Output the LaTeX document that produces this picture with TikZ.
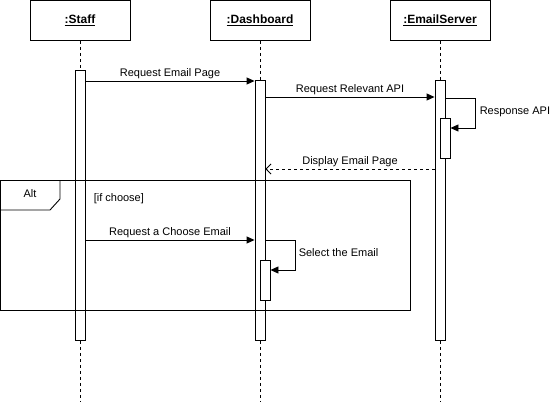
\documentclass[tikz,border=0pt]{standalone}
\usepackage{fontspec}
\setmainfont{Liberation Sans}
\usetikzlibrary{arrows.meta, positioning}

\begin{document}
\begin{tikzpicture}[x=1pt,y=-1pt,line width=0.9pt,font=\fontsize{11}{13}\selectfont,>={Triangle[length=8pt,width=7pt]}]
    \tikzstyle{head}=[shape=rectangle,draw,minimum width=100pt,minimum height=40pt,font=\fontsize{12}{14}\selectfont\bfseries]
    \tikzstyle{act}=[shape=rectangle,draw,fill=white,minimum width=10pt,inner sep=0pt]
    \tikzstyle{life}=[dash pattern=on 3pt off 3pt]
    \tikzstyle{reply}=[dash pattern=on 3pt off 3pt,-{Straight Barb[length=5pt,width=10pt]}]
    \tikzstyle{msg}=[above,inner sep=2pt]

    \useasboundingbox (0,0) rectangle (556,401);

    \node[head] (staff) at (80,20.5) {\underline{:Staff}};
    \node[head] (dash) at (260,20.5) {\underline{:Dashboard}};
    \node[head] (mail) at (440,20.5) {\underline{:EmailServer}};
    \coordinate (staffEnd) at (80,401);
    \coordinate (dashEnd) at (260,401);
    \coordinate (mailEnd) at (440,401);

    \draw[life] (staff) -- (staffEnd);
    \draw[life] (dash) -- (dashEnd);
    \draw[life] (mail) -- (mailEnd);

    \node[act, minimum height=270pt] (actS) at (80,205) {};
    \node[act, minimum height=260pt] (actD) at (260,210) {};
    \node[act, minimum height=260pt] (actM) at (440,210) {};
    \node[act, minimum height=40pt] (actM2) at (445,138) {};
    \node[act, minimum height=40pt] (actD2) at (265,280) {};

    % messages
    \draw[->] (actS.east |- 0,81) -- node[msg] {Request Email Page} (actD.west |- 0,81);
    \draw[->] (actD.east |- 0,97) -- node[msg] {Request Relevant API} (actM.west |- 0,97);
    \draw[->] (actM.east |- 0,98) -- (475,98) -- (475,128) -- (actM2.east |- 0,128);
    \node[anchor=west] (resp) at (476,112) {Response API};
    \draw[reply] (actM.west |- 0,169) -- node[msg] {Display Email Page} (actD.east |- 0,169);

    % alt fragment
    \draw (0,180) rectangle (410,310);
    \draw (0,210) -- (50,210) -- (60,199) -- (60,180);
    \node (alt) at (30,194) {Alt};
    \node[anchor=west] (guard) at (90,199) {[if choose]};

    \draw[->] (actS.east |- 0,240) -- node[msg] {Request a Choose Email} (actD.west |- 0,240);
    \draw[->] (actD.east |- 0,240) -- (295,240) -- (295,270) -- (actD2.east |- 0,270);
    \node[anchor=west] (sel) at (295,253) {Select the Email};
\end{tikzpicture}
\end{document}
